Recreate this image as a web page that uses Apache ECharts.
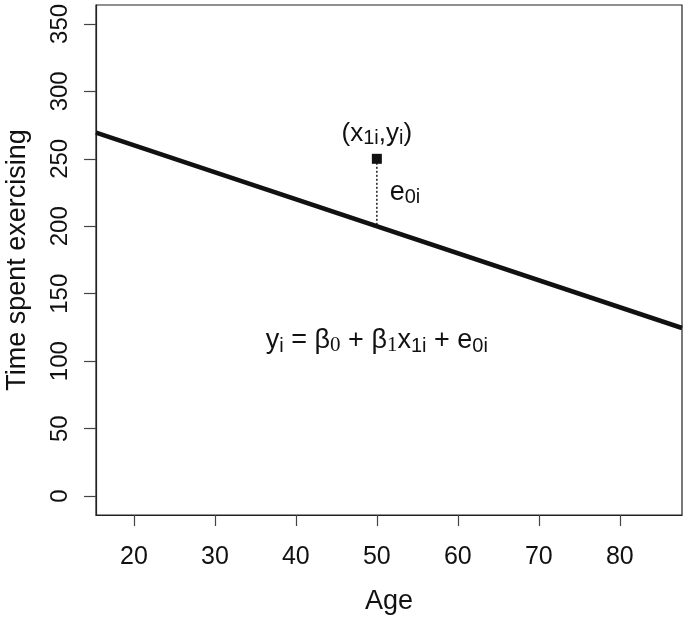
<!DOCTYPE html>
<html>
<head>
<meta charset="utf-8">
<title>Time spent exercising vs Age</title>
<script src="https://cdn.jsdelivr.net/npm/echarts@6/dist/echarts.min.js"></script>
<style>
  html, body { margin: 0; padding: 0; background: #fff; }
  #chart { width: 685px; height: 619px; }
</style>
</head>
<body>
<div id="chart"></div>
<script>
// axis ranges (R style, 4% padding) and ticks
const xRange = [15.32, 87.68];
const yRange = [-14, 364];
const xTicks = [20, 30, 40, 50, 60, 70, 80];
const yTicks = [0, 50, 100, 150, 200, 250, 300, 350];

// fitted line endpoints
const lineAge = [15.32, 87.68];
const lineTime = [269.4, 124.6];

// the observation and its residual
const obsPoint = [50, 250];
const residualAge = [50, 50];
const residualTime = [250, 200];

// annotation anchors (data space)
const eLabelAt = [50.6, 225];
const eqLabelAt = [50, 115];

const FONT = 'Liberation Sans';

const chart = echarts.init(document.getElementById('chart'));
const sub = { fontSize: 20, verticalAlign: 'bottom', padding: [10, 0, 0, 0], fontFamily: FONT, color: '#111' };
const subSerif = { fontSize: 21, verticalAlign: 'bottom', padding: [10, 0, 0, 0], fontFamily: 'Liberation Serif', color: '#111' };

chart.setOption({
  animation: false,
  backgroundColor: '#fff',
  grid: {
    left: 96, right: 3, top: 5, bottom: 104,
    outerBoundsMode: 'none',
    show: true, borderColor: '#222', borderWidth: 1.2, containLabel: false
  },
  xAxis: {
    type: 'value',
    min: xRange[0], max: xRange[1],
    name: 'Age', nameLocation: 'middle', nameGap: 73,
    nameTextStyle: { fontSize: 27, fontFamily: FONT, color: '#111' },
    axisLine: { show: true, onZero: false, lineStyle: { color: '#222', width: 1.2 } },
    axisTick: { show: true, inside: false, length: 11, customValues: xTicks, lineStyle: { color: '#444', width: 1.2 } },
    axisLabel: { customValues: xTicks, margin: 30, fontSize: 25, fontFamily: FONT, color: '#111' },
    splitLine: { show: false }
  },
  yAxis: {
    type: 'value',
    min: yRange[0], max: yRange[1],
    name: 'Time spent exercising', nameLocation: 'middle', nameGap: 65,
    nameTextStyle: { fontSize: 27, fontFamily: FONT, color: '#111' },
    axisLine: { show: true, onZero: false, lineStyle: { color: '#222', width: 1.2 } },
    axisTick: { show: true, inside: false, length: 12, customValues: yTicks, lineStyle: { color: '#444', width: 1.2 } },
    axisLabel: { customValues: yTicks, rotate: 90, margin: 24, fontSize: 24, fontFamily: FONT, color: '#111' },
    splitLine: { show: false }
  },
  series: [
    {
      name: 'fit',
      type: 'line',
      data: lineAge.map((a, i) => [a, lineTime[i]]),
      showSymbol: false,
      lineStyle: { color: '#111', width: 4.5 },
      z: 3
    },
    {
      name: 'residual',
      type: 'line',
      data: residualAge.map((a, i) => [a, residualTime[i]]),
      showSymbol: false,
      lineStyle: { color: '#111', width: 1.4, type: [2, 2] },
      z: 2
    },
    {
      name: 'obs',
      type: 'scatter',
      data: [obsPoint],
      symbol: 'rect',
      symbolSize: 10,
      itemStyle: { color: '#111', opacity: 1 },
      label: {
        show: true, position: 'top', distance: 5,
        formatter: '(x{s|1i},y{s|i})',
        fontSize: 26, fontFamily: FONT, color: '#111',
        rich: { s: sub }
      },
      z: 4
    },
    {
      name: 'notes',
      type: 'scatter',
      symbolSize: 0,
      itemStyle: { opacity: 1 },
      data: [
        { value: eLabelAt, label: { position: 'right', formatter: 'e{s|0i}' } },
        { value: eqLabelAt, label: { position: 'inside', formatter: 'y{s|i} = β{b|0} + β{b|1}x{s|1i} + e{s|0i}' } }
      ],
      label: {
        show: true, distance: 8,
        fontSize: 27, fontFamily: FONT, color: '#111',
        rich: { s: sub, b: subSerif }
      },
      z: 4
    }
  ]
});
</script>
</body>
</html>
